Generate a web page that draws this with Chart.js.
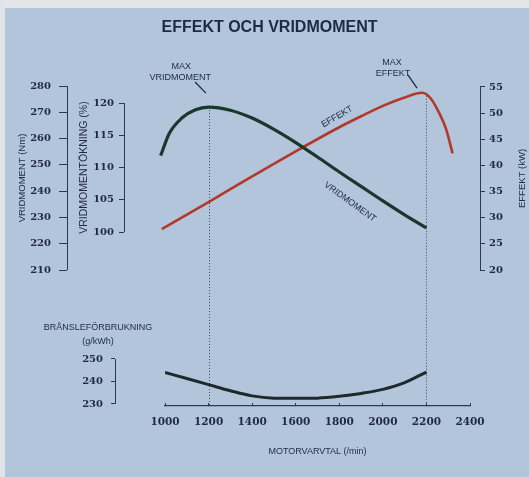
<!DOCTYPE html>
<html>
<head>
<meta charset="utf-8">
<script src="https://cdn.jsdelivr.net/npm/chart.js@4.4.1/dist/chart.umd.min.js"></script>
<style>
  html, body { margin: 0; padding: 0; }
  body {
    width: 529px; height: 477px; position: relative; overflow: hidden;
    background: #b3c5db;
  }
  #edgeTop  { position: absolute; left: 0; top: 0; width: 529px; height: 8px; background: #e3e6e6; }
  #edgeLeft { position: absolute; left: 0; top: 0; width: 5px; height: 477px; background: #dfe4e8; }
  canvas { position: absolute; left: 0; top: 0; }
</style>
</head>
<body>
<div id="edgeTop"></div>
<div id="edgeLeft"></div>
<canvas id="mainChart" width="529" height="477"></canvas>
<canvas id="fuelChart" width="529" height="477"></canvas>
<script>
// ---- data ----
const torqueRpm = [980, 1020, 1080, 1140, 1200, 1300, 1400, 1500, 1600, 1700, 1800, 1900, 2000, 2100, 2200];
const torqueNm  = [253.5, 262, 268, 271, 272, 270.8, 267.8, 263.5, 258.5, 253, 247.3, 241.8, 236.3, 231, 226];

const powerRpm = [985, 1200, 1400, 1600, 1800, 1900, 2000, 2100, 2180, 2220, 2260, 2290, 2320];
const powerKw  = [27.8, 33.0, 37.9, 42.7, 47.3, 49.4, 51.4, 53.0, 53.9, 52.8, 49.9, 47.0, 42.3];

const fuelRpm = [1000, 1100, 1200, 1300, 1400, 1500, 1600, 1700, 1800, 1900, 2000, 2100, 2200];
const fuelGkwh = [244, 241.3, 238.6, 235.9, 233.6, 232.6, 232.5, 232.6, 233.4, 234.7, 236.5, 239.5, 244.2];

const rpmTicks  = [1000, 1200, 1400, 1600, 1800, 2000, 2200, 2400];
const nmTicks   = [210, 220, 230, 240, 250, 260, 270, 280];
const pctTicks  = [100, 105, 110, 115, 120];
const kwTicks   = [20, 25, 30, 35, 40, 45, 50, 55];
const fuelTicks = [230, 240, 250];

const maxRpm = [1200, 2200];   // dotted markers

const INK   = '#1f2940';
const AXIS  = '#2c3b4c';
const TICKF = { family: "'DejaVu Serif', serif", weight: 'bold', size: 10 };
const SANS  = "'Liberation Sans', Arial, sans-serif";

const pts = (xs, ys) => xs.map((x, i) => ({ x, y: ys[i] }));
const plain = v => String(v);
const fixTicks = list => scale => { scale.ticks = list.map(v => ({ value: v })); };
const width = w => scale => { scale.width = w; };

// bracket-style axis line + centred rotated title
function bracket(ctx, scale, list, title, side, titleX, size) {
  const y1 = scale.getPixelForValue(list[0]);
  const y2 = scale.getPixelForValue(list[list.length - 1]);
  const x = Math.round(side === 'left' ? scale.right : scale.left) + 0.5;
  ctx.strokeStyle = AXIS; ctx.lineWidth = 1;
  ctx.beginPath(); ctx.moveTo(x, y1); ctx.lineTo(x, y2); ctx.stroke();
  if (title) {
    ctx.save();
    ctx.translate(titleX, (y1 + y2) / 2);
    ctx.rotate(-Math.PI / 2);
    ctx.fillStyle = INK; ctx.font = size + 'px ' + SANS;
    ctx.textAlign = 'center'; ctx.textBaseline = 'middle';
    ctx.fillText(title, 0, 0);
    ctx.restore();
  }
}

function rotText(ctx, txt, x, y, deg) {
  ctx.save();
  ctx.translate(x, y);
  ctx.rotate(deg * Math.PI / 180);
  ctx.fillText(txt, 0, 0);
  ctx.restore();
}

const mainDecor = {
  id: 'mainDecor',
  afterDraw(chart) {
    const { ctx, scales } = chart;
    const x = scales.x, nm = scales.yNm, pct = scales.yPct, kw = scales.yKw;
    ctx.save();
    bracket(ctx, nm, nmTicks, 'VRIDMOMENT (Nm)', 'left', 22, 9.5);
    bracket(ctx, pct, pctTicks, 'VRIDMOMENTÖKNING (%)', 'left', 84, 10.5);
    bracket(ctx, kw, kwTicks, 'EFFEKT (kW)', 'right', 522, 9.5);

    // dotted markers from each maximum down to the rpm axis
    const tops = [nm.getPixelForValue(Math.max(...torqueNm)), kw.getPixelForValue(Math.max(...powerKw))];
    ctx.strokeStyle = '#3d4c5e'; ctx.lineWidth = 1; ctx.setLineDash([1, 2]);
    maxRpm.forEach((r, i) => {
      const px = Math.round(x.getPixelForValue(r)) + 0.5;
      ctx.beginPath(); ctx.moveTo(px, tops[i] + 3); ctx.lineTo(px, chart.chartArea.bottom); ctx.stroke();
    });
    ctx.setLineDash([]);

    // annotations
    ctx.fillStyle = INK; ctx.font = '9px ' + SANS;
    ctx.textAlign = 'center'; ctx.textBaseline = 'middle';
    ctx.fillText('MAX', x.getPixelForValue(1075), nm.getPixelForValue(287.6));
    ctx.fillText('VRIDMOMENT', x.getPixelForValue(1070), nm.getPixelForValue(283.4));
    ctx.fillText('MAX', x.getPixelForValue(2042), kw.getPixelForValue(59.6));
    ctx.fillText('EFFEKT', x.getPixelForValue(2047), kw.getPixelForValue(57.5));
    rotText(ctx, 'EFFEKT', x.getPixelForValue(1790), kw.getPixelForValue(49.3), -30);
    rotText(ctx, 'VRIDMOMENT', x.getPixelForValue(1849), nm.getPixelForValue(235.9), 36);

    ctx.strokeStyle = INK; ctx.lineWidth = 1.3;
    ctx.beginPath();
    ctx.moveTo(x.getPixelForValue(1138), nm.getPixelForValue(281.5));
    ctx.lineTo(x.getPixelForValue(1188), nm.getPixelForValue(277.3));
    ctx.moveTo(x.getPixelForValue(2115), kw.getPixelForValue(57.3));
    ctx.lineTo(x.getPixelForValue(2157), kw.getPixelForValue(54.8));
    ctx.stroke();
    ctx.restore();
  }
};

const fuelDecor = {
  id: 'fuelDecor',
  afterDraw(chart) {
    const { ctx, scales } = chart;
    const f = scales.yFuel;
    ctx.save();
    bracket(ctx, f, fuelTicks, null, 'left');
    ctx.fillStyle = INK; ctx.font = '9px ' + SANS;
    ctx.textAlign = 'center'; ctx.textBaseline = 'middle';
    ctx.fillText('BRÅNSLEFÖRBRUKNING', 98, f.getPixelForValue(264.2));
    ctx.fillText('(g/kWh)', 98, f.getPixelForValue(257.6));
    ctx.restore();
  }
};

const yAxis = (extra) => Object.assign({
  type: 'linear',
  border: { display: false },
  grid: { drawOnChartArea: false, drawTicks: true, tickLength: 5, color: AXIS },
  ticks: { color: INK, font: TICKF, padding: 5, callback: plain }
}, extra);

new Chart(document.getElementById('mainChart'), {
  type: 'line',
  data: {
    datasets: [
      { label: 'Vridmoment', data: pts(torqueRpm, torqueNm), yAxisID: 'yNm', clip: false,
        borderColor: '#17382a', borderWidth: 3.2, pointRadius: 0, cubicInterpolationMode: 'monotone' },
      { label: 'Effekt', data: pts(powerRpm, powerKw), yAxisID: 'yKw', clip: false,
        borderColor: '#b2392a', borderWidth: 2.6, pointRadius: 0, cubicInterpolationMode: 'monotone' }
    ]
  },
  options: {
    responsive: false, animation: false,
    layout: { padding: { left: 10, right: 0, top: 0, bottom: 71 } },
    plugins: {
      legend: { display: false }, tooltip: { enabled: false },
      title: { display: true, text: 'EFFEKT OCH VRIDMOMENT', color: INK,
               font: { family: SANS, size: 16, weight: 'bold' },
               padding: { top: 18, bottom: 48.8 } }
    },
    scales: {
      x: { type: 'linear', min: 1000, max: 2400, display: false },
      yNm: yAxis({ position: 'left', weight: 3, min: 158.3, max: 280,
                   afterBuildTicks: fixTicks(nmTicks), afterFit: width(57),
                   grid: { drawOnChartArea: false, tickLength: 8, color: AXIS },
                   ticks: { color: INK, font: TICKF, padding: 8, callback: plain } }),
      yPct: yAxis({ position: 'left', weight: 2, min: 73.03, max: 122.64,
                    afterBuildTicks: fixTicks(pctTicks), afterFit: width(57) }),
      gapL: { position: 'left', weight: 1, afterFit: width(41),
              border: { display: false }, grid: { display: false }, ticks: { display: false } },
      gapR: { position: 'right', weight: 1, afterFit: width(10),
              border: { display: false }, grid: { display: false }, ticks: { display: false } },
      yKw: yAxis({ position: 'right', weight: 2, min: -6.0, max: 55.19,
                   afterBuildTicks: fixTicks(kwTicks), afterFit: width(49),
                   ticks: { color: INK, font: TICKF, padding: 4, callback: plain } })
    }
  },
  plugins: [mainDecor]
});

new Chart(document.getElementById('fuelChart'), {
  type: 'line',
  data: {
    datasets: [
      { label: 'Bränsleförbrukning', data: pts(fuelRpm, fuelGkwh), yAxisID: 'yFuel',
        borderColor: '#1c2a2c', borderWidth: 3, pointRadius: 0, cubicInterpolationMode: 'monotone' }
    ]
  },
  options: {
    responsive: false, animation: false,
    layout: { padding: { left: 60, right: 59, top: 86, bottom: 0 } },
    plugins: { legend: { display: false }, tooltip: { enabled: false } },
    scales: {
      x: { type: 'linear', min: 1000, max: 2400, afterBuildTicks: fixTicks(rpmTicks),
           afterFit: s => { s.height = 71; },
           border: { display: true, color: AXIS, width: 1.2 },
           grid: { drawOnChartArea: false, drawTicks: true, tickLength: -3, color: AXIS },
           ticks: { color: INK, font: Object.assign({}, TICKF, { size: 10.5 }), padding: 13, callback: plain, maxRotation: 0 },
           title: { display: true, text: 'MOTORVARVTAL (/min)', color: INK,
                    font: { family: SANS, size: 9 },
                    padding: { top: 0, bottom: 20 } } },
      yFuel: yAxis({ position: 'left', weight: 2, min: 229.11, max: 371.3,
                     afterBuildTicks: fixTicks(fuelTicks), afterFit: width(55),
                     grid: { drawOnChartArea: false, tickLength: 4, color: AXIS },
                     ticks: { color: INK, font: TICKF, padding: 8, callback: plain } }),
      gapF: { position: 'left', weight: 1, afterFit: width(50),
              border: { display: false }, grid: { display: false }, ticks: { display: false } }
    }
  },
  plugins: [fuelDecor]
});
</script>
</body>
</html>
